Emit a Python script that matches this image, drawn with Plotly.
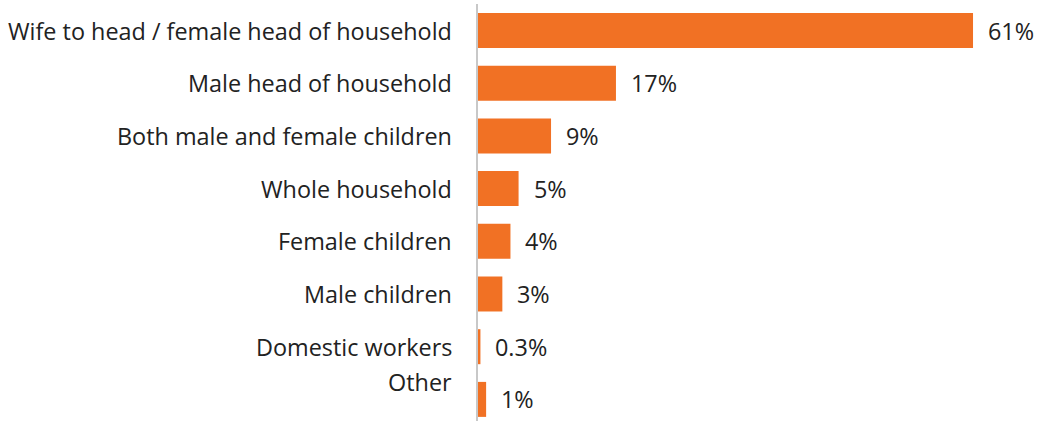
import plotly.graph_objects as go

categories = [
    "Wife to head / female head of household",
    "Male head of household",
    "Both male and female children",
    "Whole household",
    "Female children",
    "Male children",
    "Domestic workers",
    "Other",
]
values = [61, 17, 9, 5, 4, 3, 0.3, 1]
value_labels = ["61%", "17%", "9%", "5%", "4%", "3%", "0.3%", "1%"]

BAR_COLOR = "#F17124"
TEXT_COLOR = "#222222"
FONT = "Open Sans"
FONT_SIZE = 23.4

positions = list(range(len(categories)))

fig = go.Figure(
    go.Bar(
        x=values,
        y=positions,
        orientation="h",
        marker=dict(color=BAR_COLOR, line=dict(width=0)),
        width=0.664,
        hoverinfo="skip",
    )
)

annotations = []
for i, (cat, val, lab) in enumerate(zip(categories, values, value_labels)):
    # category name to the left of the axis ("Other" sits a little higher)
    annotations.append(dict(
        x=0, xref="paper", y=i, yref="y",
        text=cat, showarrow=False, xanchor="right", yanchor="middle",
        xshift=-24, yshift=17 if cat == "Other" else 0,
        font=dict(family=FONT, size=FONT_SIZE, color=TEXT_COLOR),
    ))
    # value label just past the end of the bar
    annotations.append(dict(
        x=val, xref="x", y=i, yref="y",
        text=lab, showarrow=False, xanchor="left", yanchor="middle",
        xshift=13,
        font=dict(family=FONT, size=FONT_SIZE, color=TEXT_COLOR),
    ))

fig.update_layout(
    width=1042,
    height=421,
    margin=dict(l=478, r=0, t=4, b=0),
    paper_bgcolor="white",
    plot_bgcolor="white",
    showlegend=False,
    annotations=annotations,
    xaxis=dict(
        range=[0, 69.5],
        visible=False,
        showgrid=False,
        zeroline=False,
    ),
    yaxis=dict(
        range=[7.41, -0.503],
        showticklabels=False,
        ticks="",
        showgrid=False,
        zeroline=False,
        showline=True,
        linecolor="#C8C8C8",
        linewidth=2,
    ),
)

fig.write_html("out.html")
